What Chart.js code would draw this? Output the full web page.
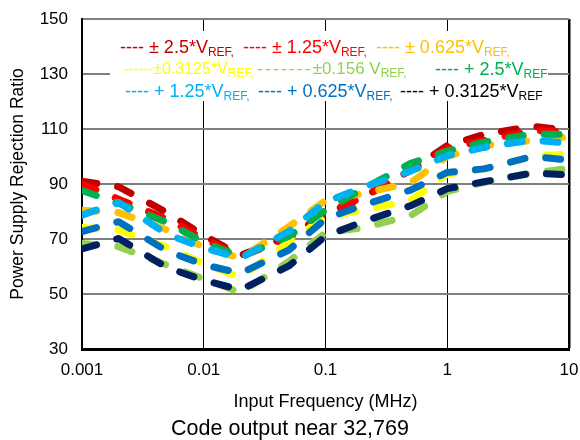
<!DOCTYPE html>
<html>
<head>
<meta charset="utf-8">
<script src="https://cdn.jsdelivr.net/npm/chart.js@4.4.1/dist/chart.umd.min.js"></script>
<style>
  html, body { margin: 0; padding: 0; background: #fff; }
  #wrap { position: relative; width: 580px; height: 440px; font-family: "Liberation Sans", Arial, sans-serif; }
  #c { position: absolute; left: 0; top: 0; }
  #legend { position: absolute; left: 110px; top: 31px; width: 438px; height: 70px; background: #fff; }
  .entry { position: absolute; font-size: 18px; line-height: 22px; white-space: pre; }
  .entry sub { font-size: 12px; vertical-align: -3px; line-height: 0; }
  #caption { position: absolute; left: 0; width: 580px; top: 416px; text-align: center; font-size: 21.5px; line-height: 24px; color: #000; }
</style>
</head>
<body>
<div id="wrap">
  <canvas id="c" width="580" height="440"></canvas>
  <div id="legend"></div>
  <div id="caption">Code output near 32,769</div>
</div>
<script>
// ---- data ----
const freqs = [0.001, 0.002, 0.005, 0.01, 0.02, 0.05, 0.1, 0.2, 0.5, 1, 2, 5, 10];
const darkRed = [91, 89, 79.6, 71.3, 64, 71, 79, 85, 95, 104, 108, 111, 109.5];
const red     = [90, 84.5, 77.2, 70.1, 63.5, 70.5, 79.5, 85, 95, 103, 105.8, 109.5, 109];
const orange  = [80.5, 79.6, 73.3, 67.1, 63, 74.5, 84, 86.5, 90.5, 100, 104, 105.8, 107.2];
const yellow  = [74.2, 73.3, 67, 61, 56, 69, 78, 80.5, 84, 93.6, 95.5, 100, 101];
const ltGreen = [68.4, 67.2, 60.5, 55.5, 50.5, 61.8, 72.3, 74, 78.5, 87.3, 90.6, 94, 95.7];
const green   = [87.6, 83, 76, 68.9, 63.5, 71, 80.5, 88, 97.5, 102, 105.2, 108.2, 108];
const ltBlue  = [78.7, 83.3, 71.7, 66.8, 63, 72.8, 83.5, 88.7, 94.7, 100.3, 103.3, 106, 104.8];
const blue    = [72.7, 76.3, 65.6, 60.7, 57.5, 66, 77.3, 82.2, 87.8, 94.2, 95.5, 100, 98.7];
const navy    = [66.4, 70.2, 59.6, 55, 51.5, 60.2, 71, 76.2, 82.1, 88.3, 90.8, 94, 93.3];

const seriesValues = [darkRed, red, orange, yellow, ltGreen, green, ltBlue, blue, navy];
const seriesNames = ["± 2.5*VREF", "± 1.25*VREF", "± 0.625*VREF", "±0.3125*VREF", "±0.156 VREF",
                     "+ 2.5*VREF", "+ 1.25*VREF", "+ 0.625*VREF", "+ 0.3125*VREF"];
const seriesColors = ["#C00000", "#FF0000", "#FFC000", "#FFFF00", "#92D050",
                      "#00B050", "#00B0F0", "#0070C0", "#002060"];

const xTickValues = [0.001, 0.01, 0.1, 1, 10];
const xTickLabels = ["0.001", "0.01", "0.1", "1", "10"];
const yTickValues = [30, 50, 70, 90, 110, 130, 150];

// legend entries: [dashes, main text, subscript, colour]
const legendItems = [
  ["---- ", "± 2.5*V", "REF,", "#C00000"],
  ["---- ", "± 1.25*V", "REF,", "#FF0000"],
  ["---- ", "± 0.625*V", "REF,", "#FFC000"],
  ["------", "±0.3125*V", "REF,", "#FFFF00"],
  ["-------", "±0.156 V", "REF,", "#92D050"],
  ["---- ", "+ 2.5*V", "REF", "#00B050"],
  ["---- ", "+ 1.25*V", "REF,", "#00B0F0"],
  ["---- ", "+ 0.625*V", "REF,", "#0070C0"],
  ["---- ", "+ 0.3125*V", "REF", "#000000"]
];
// placement of each legend entry inside the legend box: [left, row, font size, dash letter-spacing]
const legendPlace = [
  [10, 0, 18, 0], [133, 0, 18, 0], [266, 0, 18, 0],
  [13, 1, 16, -0.3], [147, 1, 17, 2.3], [325, 1, 18, 0],
  [15, 2, 18, 0], [148, 2, 18, 0], [290, 2, 18, 0]
];
const legendEl = document.getElementById('legend');
legendItems.forEach((it, i) => {
  const p = legendPlace[i];
  const s = document.createElement('div');
  s.className = 'entry';
  s.style.left = p[0] + 'px';
  s.style.top = (5 + p[1] * 22) + 'px';
  s.style.color = it[3];
  s.style.fontSize = p[2] + 'px';
  s.innerHTML = '<span style="letter-spacing:' + p[3] + 'px">' + it[0] + '</span>' + it[1] + '<sub>' + it[2] + '</sub>';
  legendEl.appendChild(s);
});

Chart.defaults.font.family = '"Liberation Sans", Arial, sans-serif';
Chart.defaults.color = '#000';

const datasets = seriesValues.map((vals, i) => ({
  label: seriesNames[i],
  data: freqs.map((f, j) => ({ x: f, y: vals[j] })),
  borderColor: seriesColors[i],
  backgroundColor: seriesColors[i],
  borderWidth: 7,
  borderCapStyle: 'round',
  borderJoinStyle: 'round',
  borderDash: [15, 21],
  pointRadius: 0,
  tension: 0,
  fill: false,
  order: seriesValues.length - i
}));

new Chart(document.getElementById('c'), {
  type: 'line',
  data: { datasets },
  options: {
    responsive: false,
    animation: false,
    devicePixelRatio: 1,
    layout: { padding: { left: 0, right: 11, top: 19, bottom: 0 } },
    plugins: { legend: { display: false }, tooltip: { enabled: false } },
    scales: {
      x: {
        type: 'logarithmic',
        min: 0.001, max: 10,
        afterBuildTicks: s => { s.ticks = xTickValues.map(v => ({ value: v })); },
        afterFit: s => { s.height = 91; s.paddingLeft = 0; s.paddingRight = 0; },
        ticks: {
          autoSkip: false, maxRotation: 0, padding: 11,
          font: { size: 17 },
          callback: v => { const k = xTickValues.indexOf(v); return k >= 0 ? xTickLabels[k] : ''; }
        },
        grid: {
          color: '#000',
          lineWidth: c => (c.tick && c.tick.value === 10) ? 2.5 : 1,
          drawTicks: false
        },
        border: { display: true, color: '#000', width: 3 },
        title: { display: true, text: 'Input Frequency (MHz)', font: { size: 18 }, padding: { top: 0, bottom: 27 } }
      },
      y: {
        type: 'linear',
        min: 30, max: 150,
        afterBuildTicks: s => { s.ticks = yTickValues.map(v => ({ value: v })); },
        afterFit: s => { s.width = 82; s.paddingTop = 0; s.paddingBottom = 0; },
        ticks: { padding: 14, font: { size: 17 } },
        grid: { color: '#808080', lineWidth: 2, drawTicks: false },
        border: { display: true, color: '#000', width: 2 },
        title: { display: true, text: 'Power Supply Rejection Ratio', font: { size: 17.5 }, padding: { top: 8, bottom: 0 } }
      }
    }
  }
});
</script>
</body>
</html>
